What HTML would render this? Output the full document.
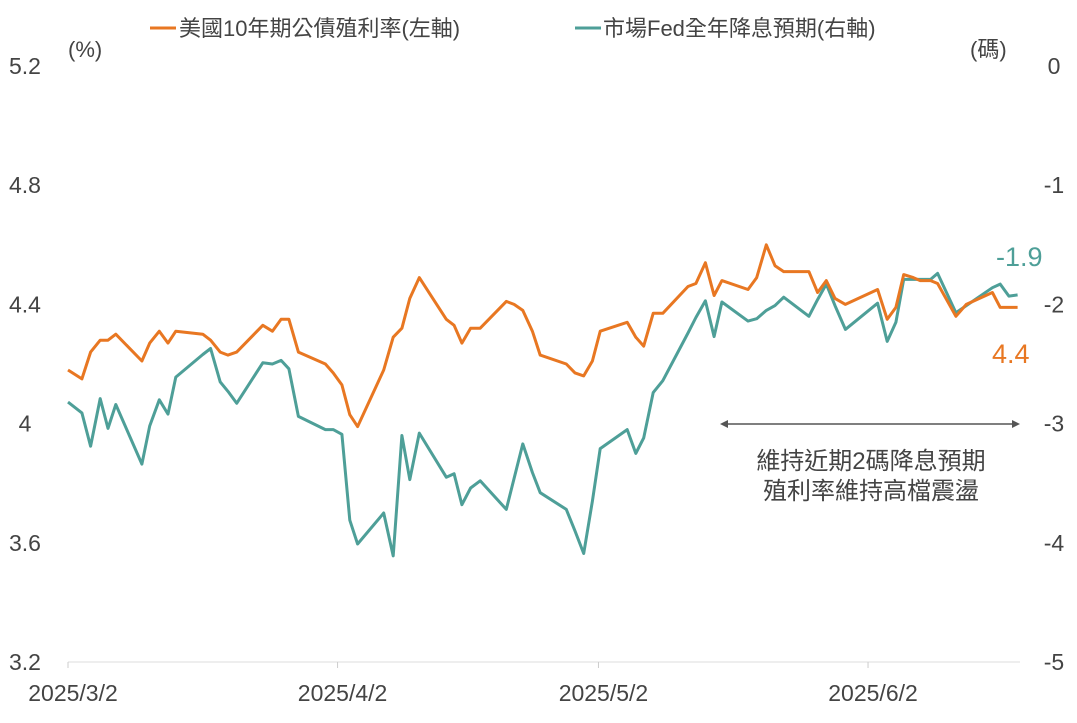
<!DOCTYPE html>
<html><head><meta charset="utf-8"><style>
body{margin:0;background:#fff;}
svg text{font-family:"Liberation Sans","Noto Sans CJK TC",sans-serif;}
</style></head><body>
<svg id="chart" width="1077" height="718" viewBox="0 0 1077 718" xmlns="http://www.w3.org/2000/svg">
<g>
 <line x1="150" y1="28" x2="176" y2="28" stroke="#e87722" stroke-width="3"/>
 <text x="179" y="36" font-size="22" fill="#444">美國10年期公債殖利率(左軸)</text>
 <line x1="575" y1="28" x2="601" y2="28" stroke="#4e9f98" stroke-width="3"/>
 <text x="603" y="36" font-size="22" fill="#444">市場Fed全年降息預期(右軸)</text>
</g>
<text x="68" y="57" font-size="22" fill="#444">(%)</text>
<text x="970" y="57" font-size="22" fill="#444">(碼)</text>
<g id="axes"></g>
<g id="series"></g>
<g>
 <line x1="726" y1="424" x2="1014" y2="424" stroke="#555" stroke-width="1.5"/>
 <polygon points="720,424 728,420 728,428" fill="#555"/>
 <polygon points="1020,424 1012,420 1012,428" fill="#555"/>
 <text x="871" y="469" font-size="24" fill="#444" text-anchor="middle">維持近期2碼降息預期</text>
 <text x="871" y="499" font-size="24" fill="#444" text-anchor="middle">殖利率維持高檔震盪</text>
</g>
<text x="996" y="266" font-size="27" fill="#4e9f98">-1.9</text>
<text x="992" y="363" font-size="27" fill="#e87722">4.4</text>
</svg>
<script>
const days=[0,1.6,2.6,3.7,4.6,5.5,8.5,9.4,10.5,11.5,12.4,15.5,16.4,17.5,18.4,19.4,22.4,23.5,24.5,25.4,26.5,29.6,30.5,31.5,32.4,33.3,36.3,37.4,38.4,39.3,40.4,43.5,44.4,45.3,46.3,47.4,50.4,51.3,52.3,53.4,54.3,57.3,58.3,59.3,60.3,61.2,64.3,65.3,66.2,67.3,68.4,71.3,72.2,73.3,74.3,75.2,78.2,79.2,80.3,81.3,82.3,85.2,86.2,87.2,88.2,89.4,93.1,94.2,95.2,96.1,97.2,98.0,99.2,100.0,102.1,103.3,106.3,107.2,108.2,109.2];
const yieldVals=[4.18,4.15,4.24,4.28,4.28,4.30,4.21,4.27,4.31,4.27,4.31,4.30,4.28,4.24,4.23,4.24,4.33,4.31,4.35,4.35,4.24,4.20,4.17,4.13,4.03,3.99,4.18,4.29,4.32,4.42,4.49,4.35,4.33,4.27,4.32,4.32,4.41,4.40,4.38,4.31,4.23,4.20,4.17,4.16,4.21,4.31,4.34,4.29,4.26,4.37,4.37,4.46,4.47,4.54,4.43,4.48,4.45,4.49,4.60,4.53,4.51,4.51,4.44,4.48,4.42,4.40,4.45,4.35,4.39,4.50,4.49,4.48,4.48,4.47,4.36,4.40,4.44,4.39,4.39,4.39];
const fedVals=[-2.82,-2.91,-3.19,-2.79,-3.04,-2.84,-3.34,-3.02,-2.80,-2.92,-2.61,-2.42,-2.37,-2.65,-2.73,-2.83,-2.49,-2.50,-2.47,-2.54,-2.94,-3.05,-3.05,-3.09,-3.81,-4.01,-3.75,-4.11,-3.10,-3.47,-3.08,-3.45,-3.42,-3.68,-3.54,-3.48,-3.72,-3.46,-3.17,-3.41,-3.58,-3.72,-3.90,-4.09,-3.65,-3.21,-3.05,-3.25,-3.12,-2.74,-2.64,-2.24,-2.11,-1.97,-2.27,-1.98,-2.14,-2.12,-2.05,-2.01,-1.94,-2.10,-1.96,-1.83,-2.01,-2.21,-1.99,-2.31,-2.15,-1.79,-1.79,-1.79,-1.79,-1.74,-2.07,-2.01,-1.86,-1.83,-1.93,-1.92];
const leftTicks=[3.2,3.6,4,4.4,4.8,5.2];
const rightTicks=[-5,-4,-3,-2,-1,0];
const xTickDays=[0,31,61,92];
const xTickLabels=["2025/3/2","2025/4/2","2025/5/2","2025/6/2"];

const NS="http://www.w3.org/2000/svg";
const x=d=>68+d*8.696;
const yL=v=>662-(v-3.2)*298;
const yR=v=>662-(v+5)*119.2;
function mk(tag,attrs,parent){const e=document.createElementNS(NS,tag);for(const k in attrs)e.setAttribute(k,attrs[k]);parent.appendChild(e);return e;}
const axes=document.getElementById('axes');
const base=mk('line',{x1:68,y1:662,x2:1020,y2:662,stroke:'#ddd','stroke-width':1},axes);


leftTicks.forEach(v=>{
 const t=mk('text',{x:25,y:yL(v)+8,'font-size':23,fill:'#444','text-anchor':'middle'},axes);
 t.textContent=String(v);
 
 
});
rightTicks.forEach(v=>{
 const t=mk('text',{x:1054,y:yR(v)+8,'font-size':23,fill:'#444','text-anchor':'middle'},axes);
 t.textContent=String(v);
 
 
});
xTickDays.forEach((d,i)=>{
 const tk=mk('line',{x1:x(d),y1:662,x2:x(d),y2:668,stroke:'#ccc'},axes);
 
 
 const t=mk('text',{x:x(d)+5,y:701,'font-size':23,fill:'#444','text-anchor':'middle'},axes);
 t.textContent=xTickLabels[i];
 
 
});
const series=document.getElementById('series');
const pf=days.map((d,i)=>x(d).toFixed(1)+','+yR(fedVals[i]).toFixed(1)).join(' ');
const lf=mk('polyline',{points:pf,fill:'none',stroke:'#4e9f98','stroke-width':3,'stroke-linejoin':'round'},series);


const py=days.map((d,i)=>x(d).toFixed(1)+','+yL(yieldVals[i]).toFixed(1)).join(' ');
const ly=mk('polyline',{points:py,fill:'none',stroke:'#e87722','stroke-width':3,'stroke-linejoin':'round'},series);


</script>
</body></html>
